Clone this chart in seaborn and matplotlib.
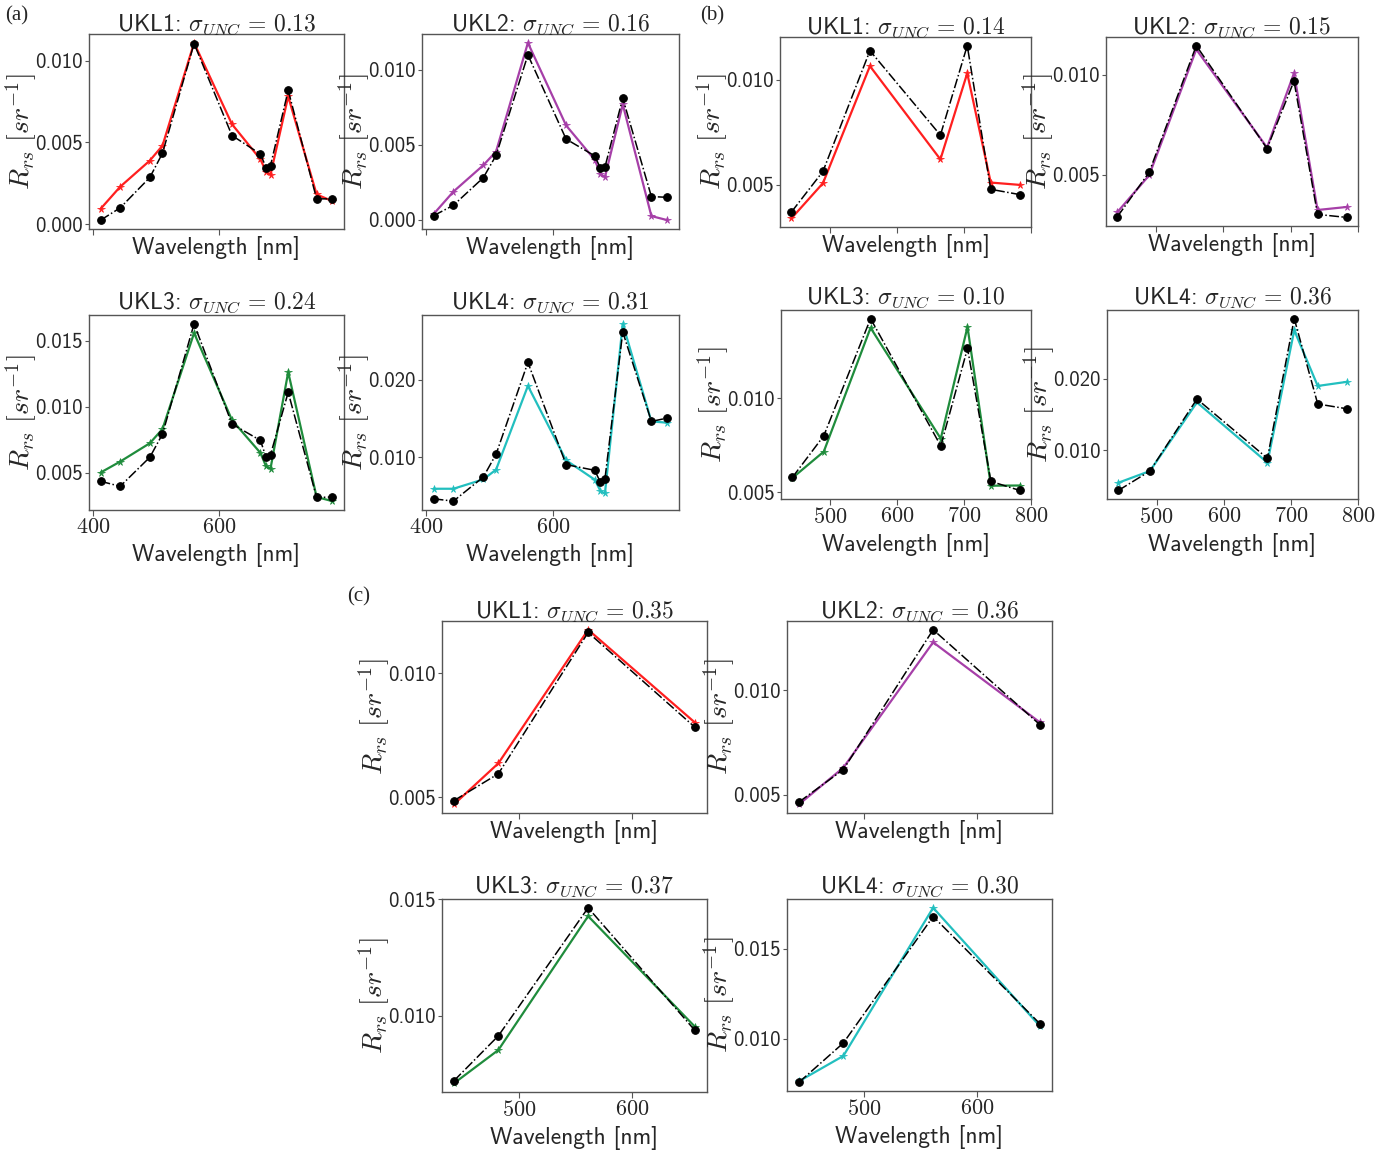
import numpy as np
import pandas as pd
import matplotlib
matplotlib.use("Agg")
import matplotlib.pyplot as plt
import seaborn as sns
from matplotlib.ticker import MultipleLocator, MaxNLocator, FuncFormatter

# ---------------- data ----------------
wl_a = [412, 443, 490, 510, 560, 620, 665, 674, 681, 709, 754, 779]
wl_b = [443, 490, 560, 665, 705, 740, 783]
wl_c = [443, 482, 561, 655]

lakes = ["UKL1", "UKL2", "UKL3", "UKL4"]
sigma_a = [0.13, 0.16, 0.24, 0.31]
sigma_b = [0.14, 0.15, 0.10, 0.36]
sigma_c = [0.35, 0.36, 0.37, 0.30]

# panel (a)
a_insitu_ukl1 = [0.00025, 0.00100, 0.00286, 0.00434, 0.01104, 0.00542, 0.00429, 0.00346, 0.00358, 0.00818, 0.00155, 0.00155]
a_model_ukl1 = [0.00094, 0.00229, 0.00389, 0.00480, 0.01108, 0.00611, 0.00397, 0.00321, 0.00303, 0.00781, 0.00182, 0.00141]
a_insitu_ukl2 = [0.00027, 0.00096, 0.00280, 0.00428, 0.01098, 0.00537, 0.00425, 0.00343, 0.00350, 0.00810, 0.00154, 0.00149]
a_model_ukl2 = [0.00038, 0.00187, 0.00363, 0.00454, 0.01178, 0.00628, 0.00399, 0.00305, 0.00283, 0.00768, 0.00024, -0.00003]
a_insitu_ukl3 = [0.00437, 0.00399, 0.00619, 0.00794, 0.01627, 0.00870, 0.00746, 0.00619, 0.00637, 0.01110, 0.00315, 0.00318]
a_model_ukl3 = [0.00503, 0.00586, 0.00725, 0.00832, 0.01558, 0.00900, 0.00652, 0.00550, 0.00533, 0.01262, 0.00318, 0.00287]
a_insitu_ukl4 = [0.00463, 0.00433, 0.00745, 0.01039, 0.02225, 0.00905, 0.00831, 0.00675, 0.00719, 0.02619, 0.01463, 0.01506]
a_model_ukl4 = [0.00593, 0.00593, 0.00714, 0.00840, 0.01922, 0.00961, 0.00710, 0.00563, 0.00532, 0.02723, 0.01463, 0.01446]

# panel (b)
b_insitu_ukl1 = [0.00371, 0.00564, 0.01137, 0.00736, 0.01161, 0.00479, 0.00454]
b_model_ukl1 = [0.00341, 0.00508, 0.01064, 0.00621, 0.01030, 0.00511, 0.00500]
b_insitu_ukl2 = [0.00291, 0.00512, 0.01145, 0.00631, 0.00968, 0.00302, 0.00287]
b_model_ukl2 = [0.00314, 0.00497, 0.01126, 0.00636, 0.01007, 0.00324, 0.00339]
b_insitu_ukl3 = [0.00580, 0.00801, 0.01423, 0.00747, 0.01265, 0.00559, 0.00511]
b_model_ukl3 = [0.00577, 0.00717, 0.01374, 0.00786, 0.01379, 0.00536, 0.00537]
b_insitu_ukl4 = [0.00437, 0.00709, 0.01718, 0.00887, 0.02845, 0.01648, 0.01582]
b_model_ukl4 = [0.00545, 0.00709, 0.01671, 0.00826, 0.02681, 0.01901, 0.01958]

# panel (c)
c_insitu_ukl1 = [0.00487, 0.00595, 0.01164, 0.00782]
c_model_ukl1 = [0.00472, 0.00637, 0.01175, 0.00801]
c_insitu_ukl2 = [0.00465, 0.00620, 0.01288, 0.00834]
c_model_ukl2 = [0.00454, 0.00629, 0.01228, 0.00845]
c_insitu_ukl3 = [0.00720, 0.00913, 0.01464, 0.00936]
c_model_ukl3 = [0.00709, 0.00852, 0.01428, 0.00952]
c_insitu_ukl4 = [0.00757, 0.00976, 0.01681, 0.01083]
c_model_ukl4 = [0.00763, 0.00904, 0.01730, 0.01070]

lake_colors = ["#ff1f1f", "#a63fa8", "#1f8c3c", "#22bfbf"]

panels = {
    "a": (wl_a, sigma_a,
          [a_insitu_ukl1, a_insitu_ukl2, a_insitu_ukl3, a_insitu_ukl4],
          [a_model_ukl1, a_model_ukl2, a_model_ukl3, a_model_ukl4]),
    "b": (wl_b, sigma_b,
          [b_insitu_ukl1, b_insitu_ukl2, b_insitu_ukl3, b_insitu_ukl4],
          [b_model_ukl1, b_model_ukl2, b_model_ukl3, b_model_ukl4]),
    "c": (wl_c, sigma_c,
          [c_insitu_ukl1, c_insitu_ukl2, c_insitu_ukl3, c_insitu_ukl4],
          [c_model_ukl1, c_model_ukl2, c_model_ukl3, c_model_ukl4]),
}

# ---------------- style ----------------
sns.set_style("ticks")
plt.rcParams["font.family"] = ["cmss10", "DejaVu Sans"]
plt.rcParams["mathtext.fontset"] = "cm"
plt.rcParams["axes.unicode_minus"] = False
plt.rcParams["axes.edgecolor"] = "#555555"
plt.rcParams["axes.linewidth"] = 1.0

W, H = 1386, 1153
fig = plt.figure(figsize=(W / 100, H / 100), dpi=100)

# axes boxes in pixels: left, top, right, bottom
boxes = {
    "a": [(89, 34, 344, 229), (422, 34, 679, 229), (89, 315, 344, 510), (422, 315, 679, 510)],
    "b": [(780, 37, 1031, 227), (1106, 37, 1358, 226), (781, 310, 1031, 499), (1107, 310, 1358, 499)],
    "c": [(442, 621, 707, 813), (787, 621, 1052, 813), (442, 899, 707, 1092), (787, 899, 1052, 1091)],
}
xstep = {"a": 200, "b": 100, "c": 100}

for key, (wl, sigmas, insitu, model) in panels.items():
    for i in range(4):
        l, t, r, b = boxes[key][i]
        ax = fig.add_axes([l / W, 1 - b / H, (r - l) / W, (b - t) / H])
        df = pd.DataFrame({"wl": wl, "insitu": insitu[i], "model": model[i]})
        sns.lineplot(data=df, x="wl", y="model", ax=ax, color=lake_colors[i],
                     marker="*", markersize=5.5, markeredgecolor=lake_colors[i],
                     markeredgewidth=0.5, linewidth=1.6, estimator=None, zorder=2)
        sns.lineplot(data=df, x="wl", y="insitu", ax=ax, color="black",
                     marker="o", markersize=5.5, markeredgecolor="black",
                     linestyle="-.", linewidth=1.1, estimator=None, zorder=3)
        ax.set_title(rf"{lakes[i]}: $\sigma_{{UNC}}\,=\,{sigmas[i]:.2f}$",
                     fontsize=17, pad=2)
        ax.set_ylabel(r"$R_{rs}\ [sr^{-1}]$", fontsize=20, labelpad=-3)
        ax.xaxis.set_major_locator(MultipleLocator(xstep[key]))
        ax.yaxis.set_major_locator(MaxNLocator(nbins=3, steps=[1, 2, 5, 10]))
        ax.yaxis.set_major_formatter(FuncFormatter(lambda v, p: f"{v:.3f}"))
        ax.xaxis.set_major_formatter(FuncFormatter(lambda v, p: f"${v:.0f}$"))
        ax.tick_params(axis="y", direction="out", length=3, width=0.8,
                       color="#555555", labelsize=15, pad=1.5)
        ax.tick_params(axis="x", direction="out", length=4, width=0.8,
                       color="#555555", labelsize=16, pad=2)
        if i < 2:
            ax.tick_params(axis="x", labelbottom=False)
            ax.set_xlabel("Wavelength [nm]", fontsize=17, labelpad=1)
        else:
            ax.set_xlabel("Wavelength [nm]", fontsize=17, labelpad=4)
        for s in ax.spines.values():
            s.set_visible(True)
            s.set_color("#555555")

fig.text(5 / W, 1 - 6 / H, "(a)", fontsize=15, family="Liberation Serif", va="top", ha="left")
fig.text(700 / W, 1 - 6 / H, "(b)", fontsize=15, family="Liberation Serif", va="top", ha="left")
fig.text(347 / W, 1 - 587 / H, "(c)", fontsize=15, family="Liberation Serif", va="top", ha="left")

fig.savefig("out.png", dpi=100)
